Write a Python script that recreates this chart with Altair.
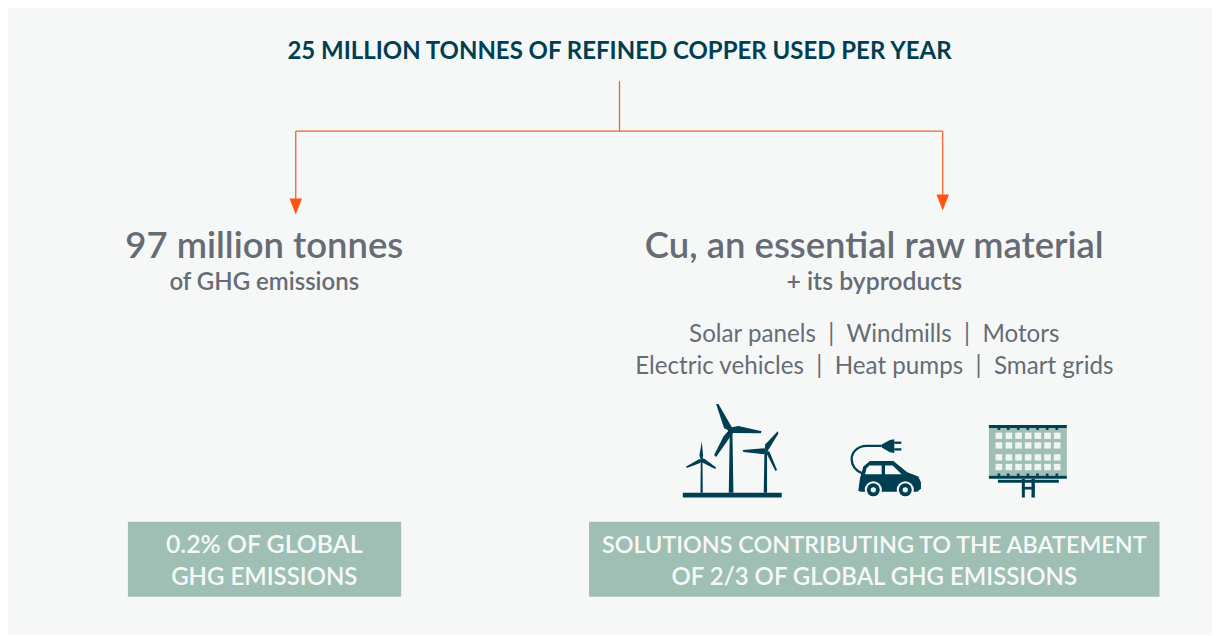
import math
import altair as alt
import pandas as pd

W, H = 1205, 627
OX, OY = 8, 8
PANEL = "#F6F8F8"
TEAL = "#003F52"
GREY = "#676C74"
SAGE = "#9FBFB5"
ORANGE = "#F2602F"
ARROW = "#FF5314"

x_s = alt.Scale(domain=[OX, OX + W], range=[0, W])
y_s = alt.Scale(domain=[OY + H, OY], range=[H, 0])
X = lambda f: alt.X(f, type="quantitative", scale=x_s, axis=None)
Y = lambda f: alt.Y(f, type="quantitative", scale=y_s, axis=None)

# --- text --------------------------------------------------------------
title_text = ["25 MILLION TONNES OF REFINED COPPER USED PER YEAR"]
heads = ["97 million tonnes", "Cu, an essential raw material"]
subs = ["of GHG emissions", "+ its byproducts"]
uses = ["Solar panels\u00a0\u00a0|\u00a0\u00a0Windmills\u00a0\u00a0|\u00a0\u00a0Motors",
        "Electric vehicles\u00a0\u00a0|\u00a0\u00a0Heat pumps\u00a0\u00a0|\u00a0\u00a0Smart grids"]
left_box = ["0.2% OF GLOBAL", "GHG EMISSIONS"]
right_box = ["SOLUTIONS CONTRIBUTING TO THE ABATEMENT", "OF 2/3 OF GLOBAL GHG EMISSIONS"]

CL, CR = 264.5, 875

def text_layer(rows, size, color, font, weight="normal"):
    df = pd.DataFrame(rows, columns=["t", "x", "y"])
    return alt.Chart(df).mark_text(font=font, fontSize=size, color=color, fontWeight=weight,
                                   align="center", baseline="alphabetic").encode(
        x=X("x"), y=Y("y"), text="t:N")

# --- boxes and connectors -----------------------------------------------
boxes = pd.DataFrame({"x": [128, 589.5], "x2": [401.5, 1160.5], "y": [522, 522], "y2": [597, 597]})
seg_x = [620, 296, 296, 943.5]
seg_x2 = [620, 943.5, 296, 943.5]
seg_y = [81, 131, 131, 131]
seg_y2 = [131, 131, 201, 197]
conn = pd.DataFrame({"x": seg_x, "x2": seg_x2, "y": seg_y, "y2": seg_y2})

layers = []
layers.append(alt.Chart(conn).mark_rule(color=ORANGE, strokeWidth=1.3).encode(
    x=X("x"), x2="x2:Q", y=Y("y"), y2="y2:Q"))

def rect_layer(df, color):
    return alt.Chart(df).mark_rect(color=color, opacity=1).encode(
        x=X("x"), x2="x2:Q", y=Y("y"), y2="y2:Q")

layers.append(rect_layer(boxes, SAGE))

Z = lambda x, y: (670.7 + x / 3, 395 + y / 3)

def poly_path(points, cx, cy, k=50):
    out = []
    for i, (a, b) in enumerate(points):
        px, py = Z(a, b)
        out.append(f"{'M' if i == 0 else 'L'}{(px - cx) / k:.4f},{(py - cy) / k:.4f}")
    return "".join(out) + "Z"

turbine_polys = [
    # ground
    [(38, 294), (335, 294), (335, 308), (38, 308)],
    # large turbine
    [(176, 294), (179, 112), (187, 112), (190, 294)],
    [(138, 27), (145, 27), (187, 100), (180, 108), (162, 100)],
    [(170, 100), (205, 93), (275, 109), (272, 115), (188, 114), (178, 116)],
    [(178, 104), (190, 112), (138, 186), (132, 180), (160, 125)],
    # small turbine
    [(91, 294), (92, 192), (97, 192), (98, 294)],
    [(95, 140), (99, 182), (97, 192), (90, 190), (88, 180)],
    [(90, 188), (104, 192), (138, 218), (135, 222), (95, 202)],
    [(48, 215), (88, 192), (95, 196), (90, 204), (50, 219)],
    # right turbine
    [(281, 294), (283, 172), (291, 172), (291, 294)],
    [(323, 109), (325, 116), (298, 160), (290, 172), (284, 160), (286, 148)],
    [(218, 165), (282, 160), (290, 168), (282, 178), (220, 171)],
    [(286, 168), (298, 170), (321, 225), (316, 228)],
]
car_polys = [
    # plug
    [(635, 149), (660, 135), (673, 133), (673, 174), (660, 172), (635, 158)],
    [(673, 140), (694, 140), (694, 147), (673, 147)],
    [(673, 160), (694, 160), (694, 167), (673, 167)],
    # body
    [(565, 288), (570, 250), (580, 215), (600, 198), (670, 198), (712, 232), (745, 245),
     (753, 262), (753, 282), (742, 291), (572, 291)],
]
panel_polys = [
    [(957, 90), (1191, 90), (1191, 99), (957, 99)],
    [(957, 243), (1191, 243), (1191, 252), (957, 252)],
    [(984, 255), (1167, 255), (1167, 264), (984, 264)],
    [(1056, 252), (1065, 252), (1065, 308), (1056, 308)],
    [(1085, 252), (1095, 252), (1095, 308), (1085, 308)],
    [(1056, 276), (1095, 276), (1095, 284), (1056, 284)],
] + [[(a, 99), (a + 8, 99), (a + 8, 105), (a, 105)] for a in (983, 1011, 1041, 1070, 1099, 1128, 1157)] \
  + [[(a, 236), (a + 8, 236), (a + 8, 243), (a, 243)] for a in (983, 1011, 1041, 1070, 1099, 1128, 1157)]

def shape_layer(polys, cx, cy, color):
    df = pd.DataFrame({"x": [cx] * len(polys), "y": [cy] * len(polys),
                       "s": [poly_path(p, cx, cy) for p in polys]})
    return alt.Chart(df).mark_point(filled=True, opacity=1, color=color, strokeWidth=0, size=10000).encode(
        x=X("x"), y=Y("y"), shape=alt.Shape("s:N", scale=None, legend=None))

# solar panel backing and cells
panel_bg = pd.DataFrame({"x": [Z(957, 0)[0]], "x2": [Z(1191, 0)[0]], "y": [Z(0, 99)[1]], "y2": [Z(0, 243)[1]]})
layers.append(rect_layer(panel_bg, SAGE))
cell_cols = [977, 1007, 1036, 1065, 1094, 1123, 1152]
cell_rows = [113, 142, 178, 207]
cells = pd.DataFrame([{"x": Z(c, 0)[0], "x2": Z(c + 20, 0)[0], "y": Z(0, r)[1], "y2": Z(0, r + 19)[1]}
                      for c in cell_cols for r in cell_rows])
layers.append(rect_layer(cells, "#EFF4F2"))

layers.append(shape_layer(turbine_polys, 732, 450, TEAL))
layers.append(shape_layer(car_polys, 888, 470, TEAL))
layers.append(shape_layer(panel_polys, 1028, 460, TEAL))

# car windows
win_polys = [[(585, 238), (590, 220), (598, 212), (635, 212), (635, 238)],
             [(645, 212), (668, 212), (695, 238), (645, 238)]]
layers.append(shape_layer(win_polys, 888, 470, PANEL))

# wheels
wheel_cx = [610, 706]
wheel_r = [(29 / 3, PANEL), (22 / 3, TEAL), (9 / 3, PANEL)]
wheels = pd.DataFrame([{"x": Z(c, 0)[0], "y": Z(0, 285)[1], "s": math.pi * r * r, "c": col}
                       for r, col in wheel_r for c in wheel_cx])
layers.append(alt.Chart(wheels).mark_circle(opacity=1).encode(
    x=X("x"), y=Y("y"), size=alt.Size("s:Q", scale=None, legend=None),
    color=alt.Color("c:N", scale=None, legend=None), order=alt.Order("s:Q", sort="descending")))

# cable
cx0, cy0 = 888, 470
def zp(a, b):
    px, py = Z(a, b)
    return f"{(px - cx0) / 50:.4f},{(py - cy0) / 50:.4f}"
cable = (f"M{zp(635, 153)}L{zp(590, 153)}C{zp(560, 153)} {zp(545, 175)} {zp(545, 192)}"
         f"C{zp(545, 212)} {zp(558, 228)} {zp(578, 236)}")
layers.append(alt.Chart(pd.DataFrame({"x": [cx0], "y": [cy0], "s": [cable]})).mark_point(
    filled=False, opacity=1, color=TEAL, strokeWidth=2.3, size=10000).encode(
    x=X("x"), y=Y("y"), shape=alt.Shape("s:N", scale=None, legend=None)))

# arrowheads
tri = "M-0.125,-0.16L0.125,-0.16L0,0.16Z"
arrows = pd.DataFrame({"x": [296, 943.5], "y": [206.5, 202.5], "s": [tri, tri]})
layers.append(alt.Chart(arrows).mark_point(filled=True, opacity=1, color=ARROW, strokeWidth=0, size=10000).encode(
    x=X("x"), y=Y("y"), shape=alt.Shape("s:N", scale=None, legend=None)))

# text layers
layers.append(text_layer([(title_text[0], 620, 59)], 24, TEAL, "Lato", "bold"))
layers.append(text_layer([(heads[0], CL, 258), (heads[1], CR, 258)], 36.5, GREY, "Lato Semibold"))
layers.append(text_layer([(subs[0], CL, 290)], 24, GREY, "Lato Semibold"))
layers.append(text_layer([(subs[1], CR, 290)], 24.8, GREY, "Lato Semibold"))
layers.append(text_layer([(uses[0], CR, 342), (uses[1], CR, 374)], 24.2, GREY, "Lato"))
layers.append(text_layer([(left_box[0], CL, 553)], 24.9, PANEL, "Lato Semibold"))
layers.append(text_layer([(left_box[1], CL, 585), (right_box[1], CR, 585)], 24, PANEL, "Lato Semibold"))
layers.append(text_layer([(right_box[0], CR, 553)], 23.4, PANEL, "Lato Semibold"))

chart = alt.layer(*layers).properties(width=W, height=H, padding=0, background=PANEL).configure_view(stroke=None)
chart.save("out.html", embed_options={"renderer": "svg", "actions": False})
